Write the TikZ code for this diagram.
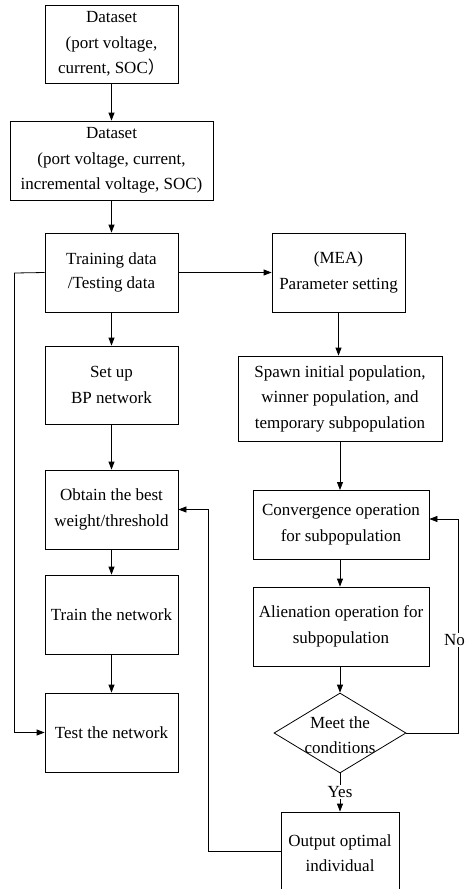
\documentclass[tikz,border=0pt]{standalone}
\usepackage{fontspec}
\setmainfont{Liberation Serif}
\newfontfamily\cjk{Noto Sans CJK SC}
\usetikzlibrary{arrows.meta,shapes.geometric,calc}
\begin{document}
\begin{tikzpicture}[x=1pt,y=1pt,
  txt/.style={align=center, inner sep=0pt, font=\fontsize{17}{25.5}\selectfont},
  box/.style={txt, draw, line width=0.8pt},
  conn/.style={line width=0.8pt, -{Triangle[length=8pt,width=6pt]}},
  plain/.style={line width=0.8pt},
  lbl/.style={txt, fill=white, inner sep=1.5pt}]
\clip (0,0) rectangle (466,-889);
\fill[white] (0,0) rectangle (466,-889);
% left column
\node[box, minimum width=133, minimum height=78] (d1) at (111.5,-44) {Dataset\\(port voltage,\\current, SOC{\cjk ）}};
\node[box, minimum width=203, minimum height=79] (d2) at (111.5,-160.5) {Dataset\\(port voltage, current,\\incremental voltage, SOC)};
\node[box, minimum width=133, minimum height=79, font=\fontsize{17}{24}\selectfont] (td) at (111.5,-272.5) {Training data\\/Testing data};
\node[box, minimum width=133, minimum height=78] (bp) at (111.5,-385) {Set up\\BP network};
\node[box, minimum width=133, minimum height=79] (ob) at (111.5,-509.5) {Obtain the best\\weight/threshold};
\node[box, minimum width=133, minimum height=79] (tr) at (111.5,-614.5) {Train the network};
\node[box, minimum width=133, minimum height=79] (te) at (111.5,-732.5) {Test the network};
% right column
\node[box, minimum width=133, minimum height=79] (mea) at (338.5,-272.5) {(MEA)\\Parameter setting};
\node[box, minimum width=204, minimum height=85] (sp) at (340,-398.5) {Spawn initial population,\\winner population, and\\temporary subpopulation};
\node[box, minimum width=176, minimum height=69] (cv) at (341,-524.5) {Convergence operation\\for subpopulation};
\node[box, minimum width=176, minimum height=79] (al) at (341,-626.5) {Alienation operation for\\subpopulation};
\node[diamond, draw, line width=0.8pt, minimum width=132, minimum height=80, inner sep=0pt, aspect=1.65] (dm) at (340,-733) {};
\node[txt, font=\fontsize{17}{25}\selectfont] (dmt) at (340,-735) {Meet the\\conditions};
\node[box, minimum width=118, minimum height=82] (out) at (340,-853) {Output optimal\\individual};
% coordinates
\coordinate (lft) at (14.5,-273);
\coordinate (noc) at (458,-519);
\coordinate (bk) at (208,-851);
% connectors
\draw[conn] (d1) -- (d2);
\draw[conn] (d2) -- (td);
\draw[conn] (td) -- (bp);
\draw[conn] (bp) -- (ob);
\draw[conn] (ob) -- (tr);
\draw[conn] (tr) -- (te);
\draw[conn] (td.west) -- (lft) |- (te.west);
\draw[conn] (td.east) -- (mea.west);
\draw[conn] (mea.south) -- (mea.south |- sp.north);
\draw[conn] (sp.south -| 340,0) -- (340,-490);
\draw[conn] (cv.south -| 340,0) -- (al.north -| 340,0);
\draw[conn] (al.south -| 340,0) -- (dm.north);
\draw[plain] (dm.east) -| (noc);
\draw[conn] (noc) -- (noc -| cv.east);
\node[lbl, inner sep=1pt] (no) at (454.5,-640) {No};
\draw[conn] (dm.south) -- (out.north);
\node[lbl] (yes) at (340,-792) {Yes};
\draw[conn] (out.west |- bk) -- (bk) |- (ob.east);
\end{tikzpicture}
\end{document}
